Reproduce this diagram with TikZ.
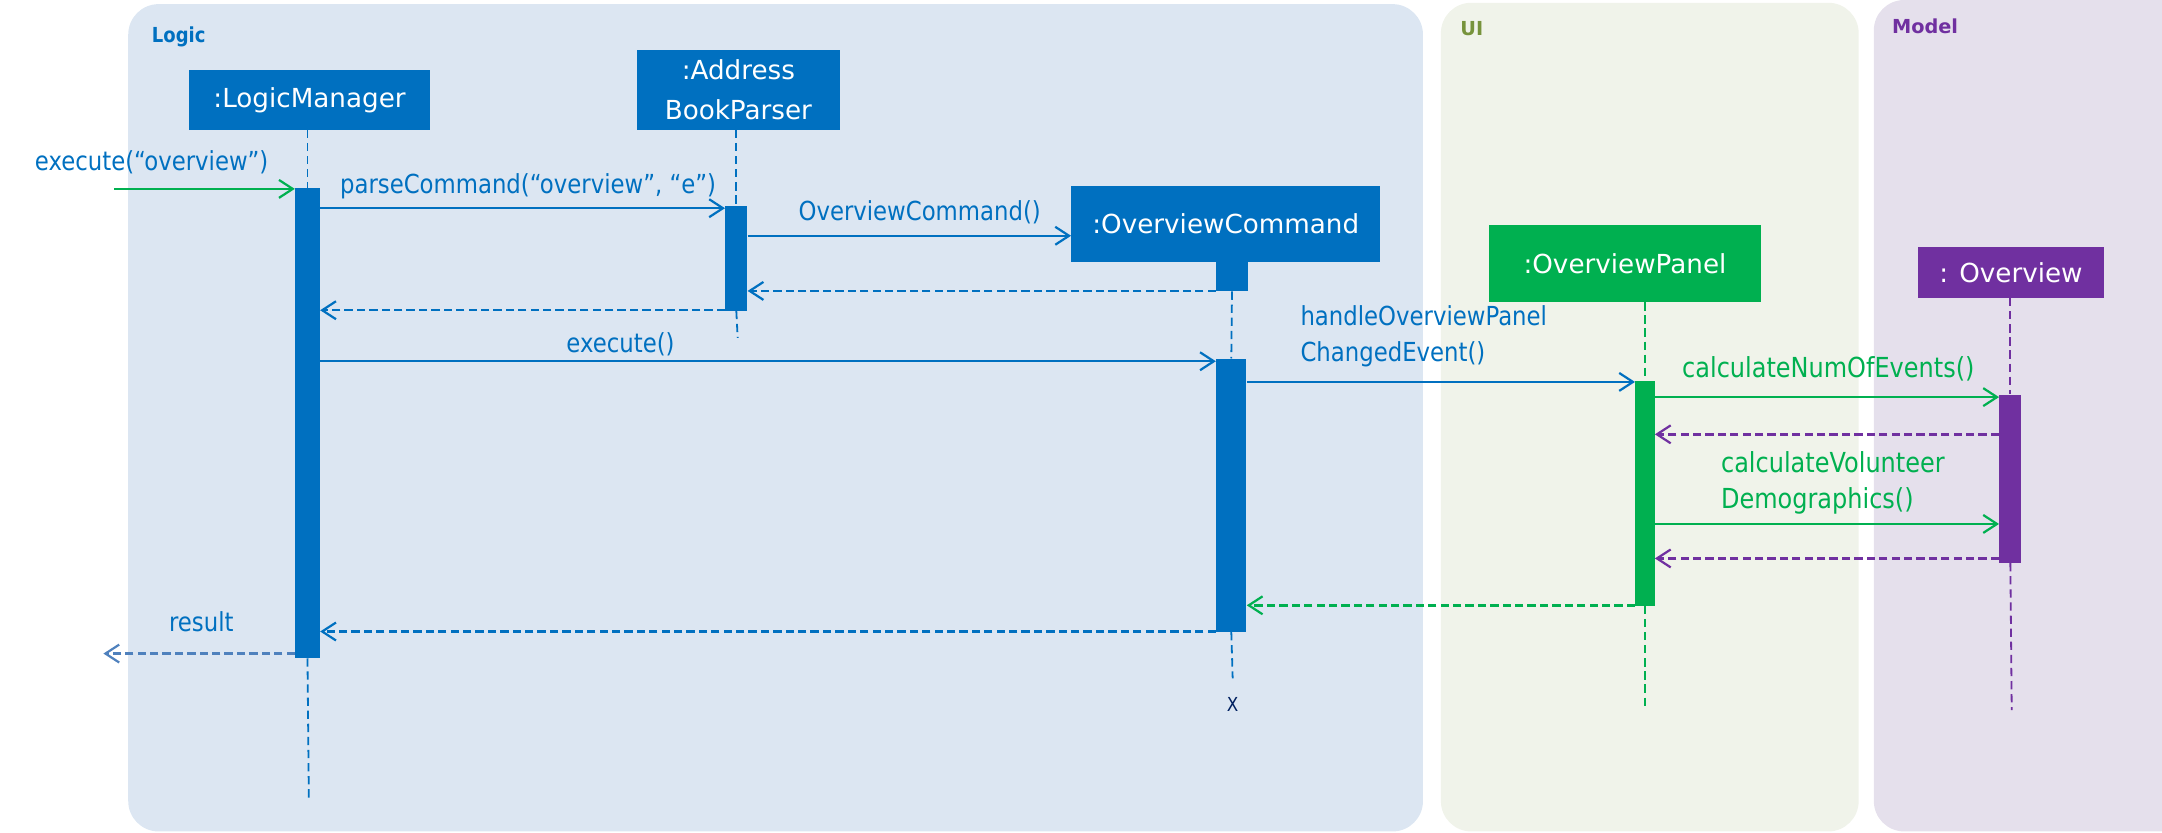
\documentclass[tikz,border=0pt]{standalone}
\usepackage{fontspec}
\setmainfont{DejaVu Sans}
\newfontfamily\labfont[FakeStretch=0.87]{DejaVu Sans}
\usetikzlibrary{arrows.meta}
\definecolor{cblue}{HTML}{0070C0}
\definecolor{cgreen}{HTML}{00B050}
\definecolor{cpurple}{HTML}{7030A0}
\definecolor{bglogic}{HTML}{DCE6F2}
\definecolor{bgui}{HTML}{F0F3EA}
\definecolor{bgmodel}{HTML}{E5E0EC}
\definecolor{cresult}{HTML}{4F81BD}
\definecolor{cui}{HTML}{77933C}
\definecolor{cnavy}{HTML}{002060}
\tikzset{
  objbox/.style={fill=#1, text=white, inner sep=0pt, font=\fontsize{19}{24}\selectfont, align=center},
  actbar/.style={fill=#1, inner sep=0pt, minimum width=16pt, anchor=north},
  lifeline/.style={draw=#1, line width=1.3pt, dash pattern=on 6pt off 3.5pt},
  msg/.style={draw=#1, line width=1.8pt, -{Straight Barb[length=10pt,width=13pt,line width=1.6pt]}},
  ret/.style={draw=#1, line width=1.8pt, dash pattern=on 6pt off 3pt, -{Straight Barb[length=10pt,width=13pt,line width=1.6pt]}},
  lbl/.style={text=#1, inner sep=0pt, font=\labfont\fontsize{19}{25}\selectfont},
  glbl/.style={text=#1, inner sep=0pt, font=\labfont\fontsize{20}{25}\selectfont},
  hdr/.style={text=#1, inner sep=0pt, anchor=base west, font=\labfont\bfseries\fontsize{15}{18}\selectfont},
}
\begin{document}
\begin{tikzpicture}[x=1pt,y=-1pt]
\useasboundingbox (0,0) rectangle (1568,604);
\begin{scope}
\clip (0,0) rectangle (1568,604);
% panels
\fill[bglogic, rounded corners=22pt] (93,3) rectangle (1032,603);
\fill[bgui, rounded corners=22pt] (1045,2) rectangle (1348,603);
\fill[bgmodel, rounded corners=22pt] (1359,0) rectangle (1600,603);
\end{scope}
\node[hdr=cblue] (hlogic) at (110,31) {Logic};
\node[hdr=cui, font=\bfseries\fontsize{14}{17}\selectfont] (hui) at (1059,26) {UI};
\node[hdr=cpurple, font=\bfseries\fontsize{14}{17}\selectfont] (hmodel) at (1372,24) {Model};

% object boxes
\node[objbox=cblue, minimum width=175pt, minimum height=43pt] (lm) at (224.5,72.5) {:LogicManager};
\node[objbox=cblue, minimum width=147pt, minimum height=58pt, font=\fontsize{19}{29}\selectfont] (abp) at (535.5,65) {:Address\\BookParser};
\node[objbox=cblue, minimum width=224pt, minimum height=55pt] (oc) at (889,162.5) {:OverviewCommand};
\node[objbox=cgreen, minimum width=197pt, minimum height=56pt] (op) at (1178.5,191) {:OverviewPanel};
\node[objbox=cpurple, minimum width=135pt, minimum height=37pt] (ov) at (1458.5,197.5) {: Overview};

% activation bars
\node[actbar=cblue, minimum width=18pt, minimum height=341pt] (lmact) at (223,136) {};
\node[actbar=cblue, minimum width=16pt, minimum height=76pt] (abpact) at (534,149) {};
\node[actbar=cblue, minimum width=23pt, minimum height=21pt] (ocact0) at (893.5,190) {};
\node[actbar=cblue, minimum width=22pt, minimum height=198pt] (ocact) at (893,260) {};
\node[actbar=cgreen, minimum width=14pt, minimum height=163pt] (opact) at (1193,276) {};
\node[actbar=cpurple, minimum width=16pt, minimum height=122pt] (ovact) at (1458,286) {};

% end points
\coordinate (lmend) at (224,580);
\coordinate (abpend) at (535,245);
\coordinate (ocend) at (894,492);
\coordinate (opend) at (1193,515);
\coordinate (ovend) at (1459,515);
\node[text=cnavy, inner sep=0pt, anchor=base, font=\labfont\fontsize{14}{16}\selectfont] (xmark) at (894,516) {X};

% lifelines
\draw[lifeline=cblue] (lm.south -| lmact) -- (lmact.north);
\draw[lifeline=cblue] (lmact.south) -- (lmend);
\draw[lifeline=cblue] (abp.south -| abpact) -- (abpact.north);
\draw[lifeline=cblue] (abpact.south) -- (abpend);
\draw[lifeline=cblue] (ocact0.south) -- (ocact.north);
\draw[lifeline=cblue] (ocact.south) -- (ocend);
\draw[lifeline=cgreen] (op.south -| opact) -- (opact.north);
\draw[lifeline=cgreen] (opact.south) -- (opend);
\draw[lifeline=cpurple] (ov.south -| ovact) -- (ovact.north);
\draw[lifeline=cpurple] (ovact.south) -- (ovend);

% messages
\coordinate (extstart) at (83,137);
\coordinate (resultend) at (75,474);
\draw[msg=cgreen] (extstart) -- (lmact.west |- extstart);
\node[lbl=cblue, anchor=base] (l1) at (110,124) {execute(“overview”)};

\draw[msg=cblue] (lmact.east |- 0,151) -- (abpact.west |- 0,151);
\node[lbl=cblue, anchor=base] (l2) at (383,140) {parseCommand(“overview”, “e”)};

\draw[msg=cblue] (abpact.east |- 0,171) -- (oc.west |- 0,171);
\node[lbl=cblue, anchor=base] (l3) at (667,160) {OverviewCommand()};

\draw[ret=cblue] (ocact0.west |- 0,211) -- (abpact.east |- 0,211);
\draw[ret=cblue] (abpact.west |- 0,225) -- (lmact.east |- 0,225);

\draw[msg=cblue] (lmact.east |- 0,262) -- (ocact.west |- 0,262);
\node[lbl=cblue, anchor=base] (l4) at (450,256) {execute()};

\draw[msg=cblue] (ocact.east |- 0,277) -- (opact.west |- 0,277);
\node[lbl=cblue, anchor=base west] (l5a) at (943,236) {handleOverviewPanel};
\node[lbl=cblue, anchor=base west] (l5b) at (943,262) {ChangedEvent()};

\draw[msg=cgreen] (opact.east |- 0,288) -- (ovact.west |- 0,288);
\node[glbl=cgreen, anchor=base] (l6) at (1326,274) {calculateNumOfEvents()};

\draw[ret=cpurple] (ovact.west |- 0,315) -- (opact.east |- 0,315);

\draw[msg=cgreen] (opact.east |- 0,380) -- (ovact.west |- 0,380);
\node[glbl=cgreen, anchor=base west] (l7a) at (1248,343) {calculateVolunteer};
\node[glbl=cgreen, anchor=base west] (l7b) at (1248,368.5) {Demographics()};

\draw[ret=cpurple] (ovact.west |- 0,405) -- (opact.east |- 0,405);
\draw[ret=cgreen] (opact.west |- 0,439) -- (ocact.east |- 0,439);
\draw[ret=cblue] (ocact.west |- 0,458) -- (lmact.east |- 0,458);

\draw[ret=cresult] (lmact.west |- resultend) -- (resultend);
\node[lbl=cblue, anchor=base] (l8) at (146,458) {result};
\end{tikzpicture}
\end{document}
